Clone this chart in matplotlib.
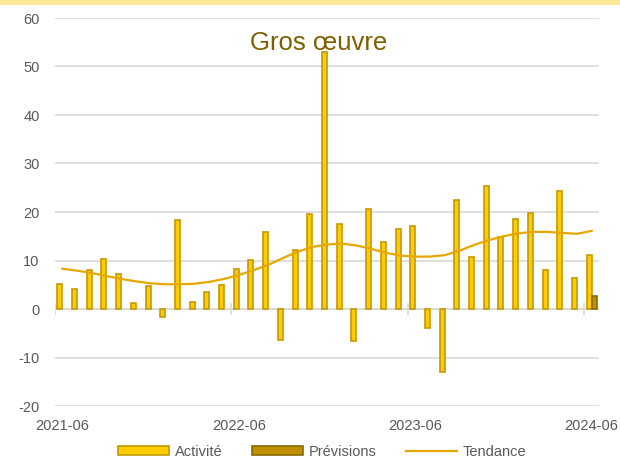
import numpy as np
import matplotlib.pyplot as plt
from matplotlib.patches import Rectangle

plt.rcParams['font.family'] = ['Liberation Sans', 'DejaVu Sans']
plt.rcParams['axes.unicode_minus'] = False

# monthly data, 2021-06 .. 2024-06
activite = [5.1, 4.1, 8.1, 10.3, 7.3, 1.2, 4.7, -1.6, 18.3, 1.5, 3.5, 4.9,
            8.3, 10.2, 15.9, -6.3, 12.2, 19.5, 52.9, 17.5, -6.5, 20.6, 13.9, 16.5,
            17.2, -4.0, -12.9, 22.5, 10.8, 25.4, 14.9, 18.6, 19.7, 8.0, 24.3, 6.3,
            11.2]
previsions = [2.7]  # last month only
tendance = [8.3, 7.9, 7.4, 6.8, 6.2, 5.7, 5.3, 5.1, 5.1, 5.2, 5.6, 6.2,
            7.0, 8.0, 9.1, 10.5, 11.8, 12.8, 13.3, 13.5, 13.1, 12.4, 11.6, 11.0,
            10.8, 10.8, 11.1, 12.0, 13.2, 14.2, 15.0, 15.6, 15.9, 15.9, 15.7, 15.5,
            16.1]
xlabels = ['2021-06', '2022-06', '2023-06', '2024-06']

fig = plt.figure(figsize=(6.2, 4.65), dpi=100)
ax = fig.add_axes([55/620, 59/465, 544/620, 388/465])

# yellow band on top
fig.patches.append(Rectangle((0, 1 - 5/465), 1, 5/465, transform=fig.transFigure,
                             facecolor='#FFE699', edgecolor='none'))

x = np.arange(len(activite)) + 0.5
xp = x[-len(previsions):]
w = 0.34
b1 = ax.bar(x - 0.17, activite, width=w, color='#FFCC00',
            edgecolor='#C39A00', linewidth=1.2, label='Activité', zorder=3)
b2 = ax.bar(xp + 0.17, previsions, width=w, color='#BF9000',
            edgecolor='#8A6A00', linewidth=1.2, label='Prévisions', zorder=3)
l1, = ax.plot(x, tendance, color='#E6A800', linewidth=1.6, label='Tendance', zorder=4)

ax.set_xlim(0, 37)
ax.set_ylim(-20, 60)
ax.set_yticks(range(-20, 61, 10))
ax.grid(axis='y', color='#D9D9D9', linewidth=1.2, zorder=0)
ax.axhline(0, color='#D9D9D9', linewidth=1.2, zorder=1)
for t in [0, 12, 24, 36]:
    ax.plot([t, t], [-1.0, 1.0], color='#D9D9D9', linewidth=1.2, zorder=1)

ax.set_xticks([0.5, 12.5, 24.5, 36.5])
ax.set_xticklabels(xlabels)
for s in ax.spines.values():
    s.set_visible(False)
ax.tick_params(axis='both', length=0, labelsize=10.5, labelcolor='#595959')
ax.tick_params(axis='y', pad=11)
ax.tick_params(axis='x', pad=9.5)

ax.text(0.485, 0.935, 'Gros œuvre', transform=ax.transAxes, ha='center', va='center',
        fontsize=18.5, color='#7F6000')

fig.legend([b1, b2, l1], ['Activité', 'Prévisions', 'Tendance'],
           loc='center', bbox_to_anchor=(322/620, 1 - 452/465), ncol=3, frameon=False,
           fontsize=10.5, labelcolor='#595959', handlelength=3.5, handleheight=0.6,
           columnspacing=2.0, handletextpad=0.4)

fig.savefig('out.png', dpi=100)
